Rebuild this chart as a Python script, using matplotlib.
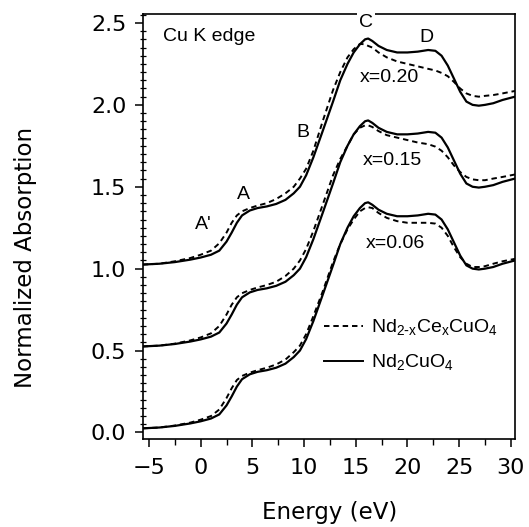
import matplotlib
matplotlib.use("Agg")
import matplotlib.pyplot as plt
from matplotlib.ticker import MultipleLocator
import numpy as np

# energy grid (eV) shared by all traces
energy = [-5.6, -4, -2.5, -1, 0, 1, 1.8, 2.5, 3.0, 3.5, 4.0, 4.75, 5.5, 6.4, 7.3, 8.2,
          9.0, 9.6, 10.2, 10.9, 11.8, 12.8, 13.5, 14.2, 14.8, 15.4, 15.9, 16.2, 16.6,
          17.2, 18.0, 19.0, 20.0, 21.0, 22.0, 22.7, 23.3, 23.9, 24.5, 25.1, 25.7, 26.3,
          26.9, 27.5, 28.3, 29.2, 30.4]

# Nd2CuO4 reference (solid), before vertical offset
nd2cuo4 = [0.025, 0.03, 0.04, 0.055, 0.068, 0.085, 0.11, 0.165, 0.22, 0.28, 0.325, 0.355,
           0.37, 0.38, 0.395, 0.42, 0.46, 0.50, 0.57, 0.68, 0.84, 1.02, 1.15, 1.25, 1.32,
           1.37, 1.40, 1.405, 1.39, 1.36, 1.335, 1.32, 1.32, 1.325, 1.335, 1.33, 1.30,
           1.24, 1.16, 1.08, 1.02, 1.0, 0.995, 1.0, 1.01, 1.03, 1.05]

# Nd2-xCexCuO4 (dashed), before vertical offset
ce_006 = [0.025, 0.03, 0.042, 0.06, 0.078, 0.10, 0.14, 0.21, 0.27, 0.32, 0.345, 0.365,
          0.38, 0.395, 0.415, 0.445, 0.49, 0.53, 0.60, 0.71, 0.86, 1.04, 1.15, 1.24, 1.30,
          1.35, 1.37, 1.375, 1.37, 1.34, 1.31, 1.29, 1.28, 1.28, 1.28, 1.275, 1.25, 1.20,
          1.13, 1.07, 1.03, 1.01, 1.01, 1.015, 1.03, 1.045, 1.06]
ce_015 = [0.025, 0.03, 0.042, 0.062, 0.08, 0.105, 0.15, 0.22, 0.28, 0.325, 0.35, 0.37,
          0.385, 0.40, 0.42, 0.455, 0.50, 0.55, 0.62, 0.73, 0.89, 1.07, 1.17, 1.25, 1.32,
          1.36, 1.375, 1.375, 1.365, 1.34, 1.315, 1.30, 1.285, 1.27, 1.26, 1.245, 1.22,
          1.18, 1.13, 1.09, 1.06, 1.045, 1.04, 1.04, 1.05, 1.06, 1.075]
ce_020 = [0.025, 0.03, 0.045, 0.065, 0.085, 0.11, 0.155, 0.22, 0.28, 0.325, 0.35, 0.37,
          0.385, 0.40, 0.425, 0.46, 0.50, 0.55, 0.61, 0.72, 0.90, 1.09, 1.20, 1.29, 1.34,
          1.372, 1.37, 1.36, 1.35, 1.32, 1.29, 1.265, 1.25, 1.235, 1.22, 1.21, 1.195,
          1.175, 1.14, 1.10, 1.07, 1.055, 1.05, 1.055, 1.06, 1.07, 1.085]

offsets = [0.0, 0.5, 1.0]
doped = [ce_006, ce_015, ce_020]
x_labels = ["x=0.06", "x=0.15", "x=0.20"]
x_label_pos = [(18.8, 1.155), (18.5, 1.66), (18.3, 2.17)]

fig = plt.figure(figsize=(5.29, 5.27), dpi=100)
ax = fig.add_axes([0.2703, 0.167, 0.7032, 0.8065])

E = np.array(energy)
for off, ce in zip(offsets, doped):
    ax.plot(E, np.array(nd2cuo4) + off, color="black", lw=1.6, solid_capstyle="round")
    ax.plot(E, np.array(ce) + off, color="black", lw=1.4, dashes=(2.8, 2.0))

ax.set_xlim(-5.58, 30.4)
ax.set_ylim(-0.04, 2.555)

ax.xaxis.set_major_locator(MultipleLocator(5))
ax.xaxis.set_minor_locator(MultipleLocator(2.5))
ax.yaxis.set_major_locator(MultipleLocator(0.5))
ax.yaxis.set_minor_locator(MultipleLocator(0.05))
ax.yaxis.set_major_formatter(matplotlib.ticker.FormatStrFormatter("%.1f"))

ax.tick_params(which="major", direction="out", length=6, width=1.1,
               labelsize=16, top=False, right=False)
ax.tick_params(axis="x", which="major", pad=8)
ax.tick_params(axis="y", which="major", pad=6)
ax.tick_params(axis="x", which="minor", direction="out", length=4, width=1.0)
ax.tick_params(axis="y", which="minor", direction="inout", length=4, width=0.9)
for s in ax.spines.values():
    s.set_linewidth(1.2)

ax.set_xlabel("Energy (eV)", fontsize=16.5, va="center")
ax.xaxis.set_label_coords(0.503, -0.174)
ax.set_ylabel("Normalized Absorption", fontsize=16.5, va="center")
ax.yaxis.set_label_coords(-0.317, 0.426)

lab = dict(fontsize=14, family="Liberation Sans", ha="center", va="center")
ax.text(-3.67, 2.42, "Cu K edge", **{**lab, "ha": "left"})
ax.text(16.0, 2.50, "C", clip_on=False, zorder=5,
        bbox=dict(facecolor="white", edgecolor="none", pad=1.5), **lab)
ax.text(21.85, 2.41, "D", **lab)
ax.text(9.9, 1.83, "B", **lab)
ax.text(4.1, 1.45, "A", **lab)
ax.text(0.23, 1.27, "A'", **lab)
for t, (tx, ty) in zip(x_labels, x_label_pos):
    ax.text(tx, ty, t, **lab)

# legend drawn as proxy artists
h1, = ax.plot([], [], color="black", lw=1.4, dashes=(2.8, 2.0))
h2, = ax.plot([], [], color="black", lw=1.4)
leg = ax.legend([h1, h2],
                [r"Nd$_{\mathregular{2\text{-}x}}$Ce$_{\mathregular{x}}$CuO$_{\mathregular{4}}$",
                 r"Nd$_{\mathregular{2}}$CuO$_{\mathregular{4}}$"],
                loc="upper left", bbox_to_anchor=(0.46, 0.308), frameon=False,
                prop={"family": "Liberation Sans", "size": 14},
                handlelength=2.0, handletextpad=0.45, labelspacing=0.75, borderpad=0)

fig.savefig("out.png", dpi=100)
